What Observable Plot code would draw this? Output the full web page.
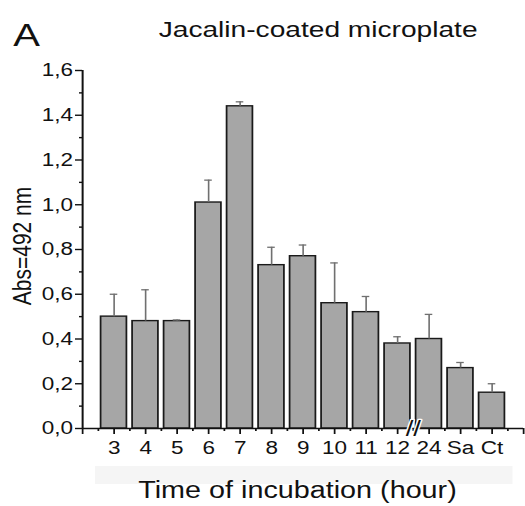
<!DOCTYPE html>
<html>
<head>
<meta charset="utf-8">
<script src="https://cdn.jsdelivr.net/npm/d3@7"></script>
<script src="https://cdn.jsdelivr.net/npm/@observablehq/plot@0.6"></script>
<style>
  html, body { margin: 0; padding: 0; background: #fff; }
  body { width: 525px; height: 506px; overflow: hidden; font-family: "Liberation Sans", Arial, sans-serif; }
  #wrap { position: relative; width: 420px; height: 506px; transform: scaleX(1.25); transform-origin: 0 0; }
  #wrap svg { position: absolute; left: 0; top: 0; }
  .lbl { position: absolute; line-height: 1; white-space: nowrap; color: #111; }
  #panel { left: 10.5px; top: 19px; font-size: 32px; }
  #title { left: 254.5px; top: 19px; font-size: 22.5px; transform: translateX(-50%); }
  #xlabel { left: 238px; top: 479px; font-size: 23px; transform: translateX(-50%); }
  #ylabel { left: 17px; top: 246px; font-size: 21px; transform: translate(-50%, -50%) rotate(-90deg); }
  #band { position: absolute; left: 76px; width: 334px; top: 466px; height: 18px; background: #f5f5f5; }
</style>
</head>
<body>
<div id="wrap">
  <div id="band"></div>
  <div class="lbl" id="panel">A</div>
  <div class="lbl" id="title">Jacalin-coated microplate</div>
  <div class="lbl" id="xlabel">Time of incubation (hour)</div>
  <div class="lbl" id="ylabel">Abs=492 nm</div>
</div>
<script>
const categories = ["3", "4", "5", "6", "7", "8", "9", "10", "11", "12", "24", "Sa", "Ct"];
const means  = [0.50, 0.48, 0.48, 1.01, 1.44, 0.73, 0.77, 0.56, 0.52, 0.38, 0.40, 0.27, 0.16];
const errors = [0.10, 0.14, 0.005, 0.10, 0.02, 0.08, 0.05, 0.18, 0.07, 0.03, 0.11, 0.025, 0.04];
const yTicks = [0, 0.2, 0.4, 0.6, 0.8, 1.0, 1.2, 1.4, 1.6];
const yMinorTicks = [0.1, 0.3, 0.5, 0.7, 0.9, 1.1, 1.3, 1.5];

const data = categories.map((c, i) => ({c, i, v: means[i], e: errors[i]}));
const n = categories.length;
const xMajor = d3.range(-1, n + 1);
const xMinor = d3.range(-0.5, n, 1);
const breakPos = (categories.indexOf("12") + categories.indexOf("24")) / 2;
const half = 0.41, cap = 0.12;

const chart = Plot.plot({
  width: 420,
  height: 506,
  marginLeft: 65.6,
  marginRight: 1.6,
  marginTop: 70,
  marginBottom: 78,
  style: {fontFamily: "'Liberation Sans', Arial, sans-serif", background: "transparent", color: "#111"},
  x: {domain: [-1, n], label: null},
  y: {domain: [0, 1.6], label: null},
  marks: [
    Plot.rectY(data, {x1: d => d.i - half, x2: d => d.i + half, y1: 0, y2: "v", fill: "#a6a6a6", stroke: "#1a1a1a", strokeWidth: 1.4}),
    Plot.ruleX(data, {x: "i", y1: "v", y2: d => d.v + d.e, stroke: "#707070", strokeWidth: 1.3}),
    Plot.ruleY(data, {x1: d => d.i - cap, x2: d => d.i + cap, y: d => d.v + d.e, stroke: "#707070", strokeWidth: 1.3}),
    Plot.axisX({ticks: xMajor, tickFormat: i => categories[i] ?? "", tickSize: 6, tickPadding: 7, fontSize: 18, strokeWidth: 1.4, label: null}),
    Plot.axisX({ticks: xMinor, tickFormat: () => "", tickSize: 3, strokeWidth: 1.4, label: null}),
    Plot.axisY({ticks: yTicks, tickFormat: d => d.toFixed(1).replace(".", ","), tickSize: 5.6, tickPadding: 2, fontSize: 18, strokeWidth: 1.4, label: null}),
    Plot.axisY({ticks: yMinorTicks, tickFormat: () => "", tickSize: 2.4, strokeWidth: 1.4, label: null}),
    Plot.ruleY([0], {stroke: "#111", strokeWidth: 1.6}),
    Plot.ruleX([-1], {y1: 0, y2: 1.6, stroke: "#111", strokeWidth: 1.6}),
    Plot.text([breakPos], {x: d => d, y: 0, text: () => "//", fontSize: 22, fill: "#111", stroke: "white", strokeWidth: 2.5, textAnchor: "middle", lineAnchor: "middle"})
  ]
});
document.getElementById("wrap").appendChild(chart);
</script>
</body>
</html>
